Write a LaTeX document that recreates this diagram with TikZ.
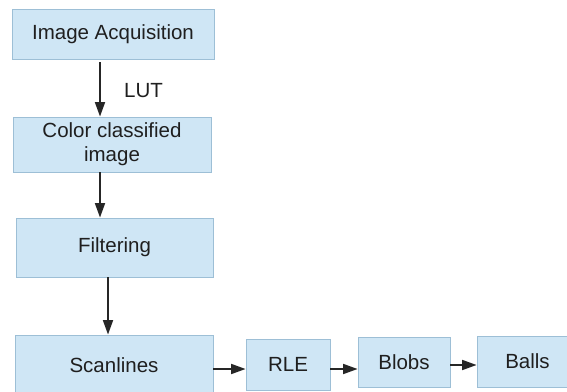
\documentclass[tikz,border=0pt]{standalone}
\usepackage{fontspec}
\setmainfont{Liberation Sans}
\usepackage{xcolor}
\usepackage{tikz}
\usetikzlibrary{arrows.meta,positioning,calc}
\definecolor{boxfill}{HTML}{CFE6F5}
\definecolor{boxline}{HTML}{9DBFD6}
\definecolor{arrline}{HTML}{262626}

\begin{document}
\begin{tikzpicture}[
  stage/.style={draw=boxline, fill=boxfill, line width=0.8pt, inner sep=0pt,
    align=center, text=black!88, font=\fontsize{17.5}{20.5}\selectfont},
  lbl/.style={font=\fontsize{17.5}{20.5}\selectfont, text=black!88},
  arr/.style={-{Triangle[length=4.3mm,width=3mm]}, line width=1.3pt, arrline}
]
  \useasboundingbox (0,0) rectangle (17.01,-11.76);

  \node[stage, minimum width=6.06cm, minimum height=1.5cm] (acq) at (3.39,-1.02) {Image Acquisition};
  \node[stage, minimum width=5.94cm, minimum height=1.65cm] (cls) at (3.36,-4.335) {Color classified\\image};
  \node[stage, minimum width=5.91cm, minimum height=1.77cm] (filt) at (3.435,-7.425) {Filtering};
  \node[stage, minimum width=5.94cm, minimum height=1.8cm] (scan) at (3.42,-10.95) {Scanlines};

  \node[stage, minimum width=2.52cm, minimum height=1.53cm] (rle) at (8.64,-10.935) {RLE};
  \node[stage, minimum width=2.76cm, minimum height=1.5cm] (blobs) at (12.12,-10.86) {Blobs};
  \node[stage, minimum width=3.03cm, minimum height=1.53cm] (balls) at (15.825,-10.845) {Balls};

  % arrow rails
  \coordinate (upx) at (3.0,0);
  \coordinate (lowx) at (3.24,0);
  \coordinate (row1) at (0,-11.07);
  \coordinate (row2) at (0,-10.95);

  \draw[arr] ([yshift=-0.09cm]acq.south -| upx) -- (cls.north -| upx);
  \node[lbl] (lut) at (4.305,-2.73) {LUT};
  \draw[arr] (cls.south -| upx) -- (filt.north -| upx);
  \draw[arr] (filt.south -| lowx) -- (scan.north -| lowx);

  \draw[arr] (scan.east |- row1) -- (rle.west |- row1);
  \draw[arr] (rle.east |- row1) -- (blobs.west |- row1);
  \draw[arr] (blobs.east |- row2) -- (balls.west |- row2);
\end{tikzpicture}
\end{document}
